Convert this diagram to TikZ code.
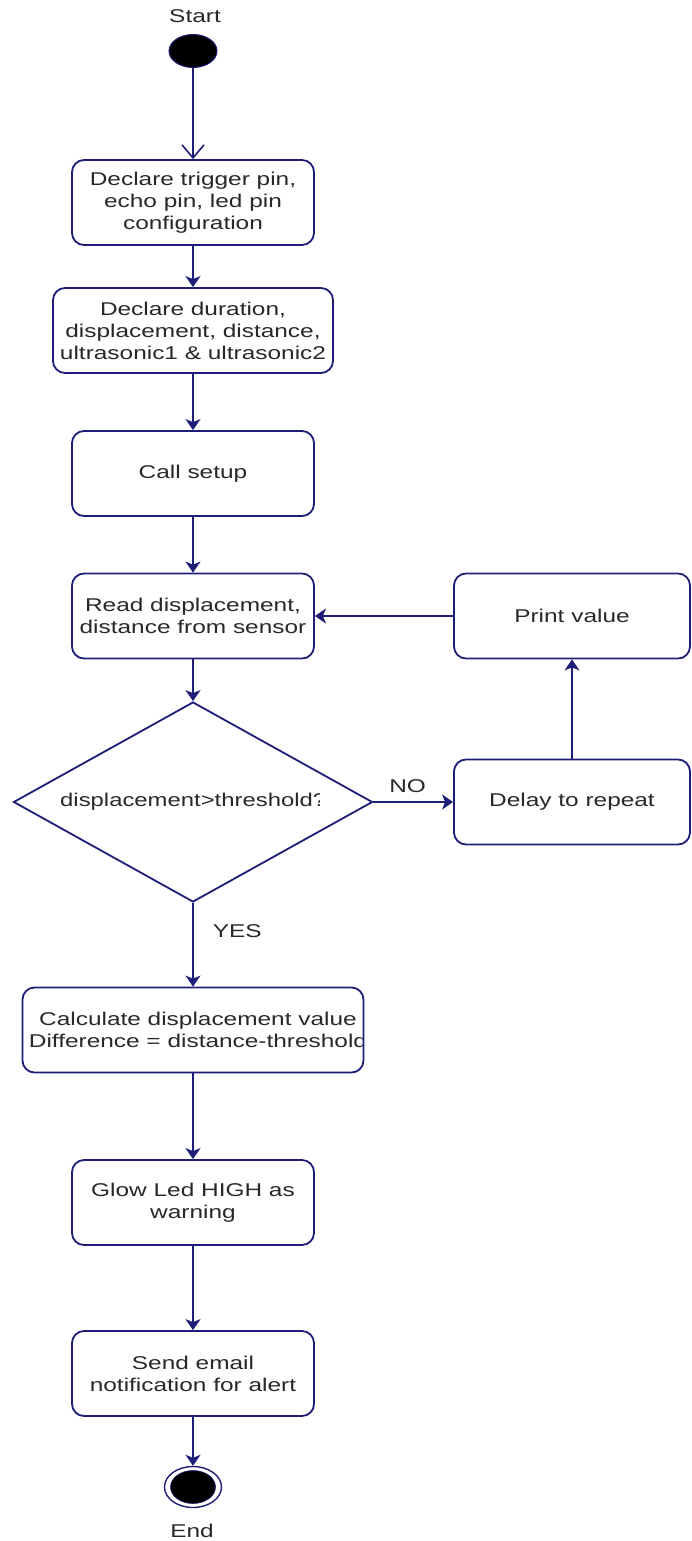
\documentclass[tikz,border=0pt]{standalone}
\usepackage{fontspec}
\usetikzlibrary{shapes.geometric,arrows.meta}
\newfontfamily\dfont[FakeStretch=1.32]{Liberation Sans}
\newfontfamily\dnarrow[FakeStretch=1.29]{Liberation Sans}
\definecolor{navy}{RGB}{30,30,120}
\definecolor{txtc}{RGB}{40,40,40}
\tikzset{
  every node/.style={font=\dfont\fontsize{18.5}{22}\selectfont, text=txtc},
  box/.style={draw=navy, line width=1.8pt, fill=white, rounded corners=12pt,
    minimum height=85pt, inner sep=0pt, align=center},
  arr/.style={draw=navy, line width=1.8pt, -{Stealth[length=11pt,width=15pt,inset=3pt]}},
  openarr/.style={draw=navy, line width=1.8pt, -{Straight Barb[length=13pt,width=22pt,line width=1.6pt]}},
  lbl/.style={inner sep=0pt},
}
\begin{document}
\begin{tikzpicture}[x=1pt,y=-1pt]
\useasboundingbox (0,0) rectangle (691,1541);

\node[lbl] (startlbl) at (195,16) {Start};
\node[ellipse, draw=navy, fill=black, line width=1pt, minimum width=48pt, minimum height=33pt, inner sep=0pt] (start) at (193,51) {};

\node[box, minimum width=242pt] (b1) at (193,202.5) {Declare trigger pin,\\echo pin, led pin\\configuration};
\node[box, minimum width=280pt] (b2) at (193,330.5) {Declare duration,\\displacement, distance,\\ultrasonic1 \& ultrasonic2};
\node[box, minimum width=242pt] (b3) at (193,473.5) {Call setup};
\node[box, minimum width=242pt] (b4) at (193,616) {Read displacement,\\distance from sensor};
\node[box, minimum width=236pt] (print) at (572,616) {Print value};

\node[diamond, draw=navy, line width=1.8pt, fill=white, aspect=1.8, minimum width=359pt, minimum height=200pt, inner sep=0pt] (dec) at (193,802) {};
\begin{scope}
  \clip (20,760) rectangle (319,840);
  \node[lbl, anchor=west, font=\dnarrow\fontsize{18.5}{22}\selectfont] (dectext) at (60,802) {displacement>threshold?};
\end{scope}
\node[box, minimum width=236pt] (delay) at (572,802) {Delay to repeat};

\node[box, minimum width=341pt,
  path picture={
    \node[lbl, align=center] at ([xshift=5pt]path picture bounding box.center) {Calculate displacement value\\Difference = distance-threshold};
  }] (calc) at (193,1030) {};
\node[box, minimum width=242pt] (glow) at (193,1202.5) {Glow Led HIGH as\\warning};
\node[box, minimum width=242pt] (send) at (193,1373.5) {Send email\\notification for alert};

\node[ellipse, draw=navy, fill=white, line width=1.4pt, minimum width=57pt, minimum height=41pt, inner sep=0pt] (end) at (193,1487) {};
\node[ellipse, fill=black, draw=navy, line width=0.6pt, minimum width=45pt, minimum height=33pt, inner sep=0pt] (endin) at (end.center) {};
\node[lbl] (endlbl) at (192,1531) {End};

\draw[openarr] (start) -- (b1);
\draw[arr] (b1) -- (b2);
\draw[arr] (b2) -- (b3);
\draw[arr] (b3) -- (b4);
\draw[arr] (b4) -- (dec.north);
\draw[arr] (dec.east) -- node[lbl, pos=0.43, above=8pt] {NO} (delay.west);
\draw[arr] (delay) -- (print);
\draw[arr] (print) -- (b4);
\draw[arr] (dec.south) -- node[lbl, pos=0.34, right=19pt] {YES} (calc);
\draw[arr] (calc) -- (glow);
\draw[arr] (glow) -- (send);
\draw[arr] (send) -- (end);
\end{tikzpicture}
\end{document}
